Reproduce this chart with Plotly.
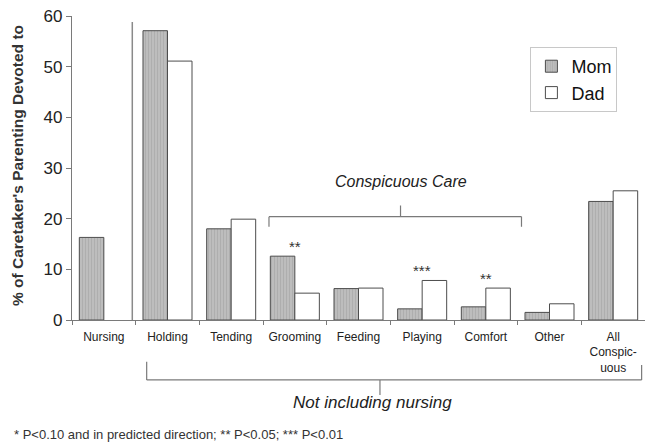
import plotly.graph_objects as go

# Parenting behaviour categories and share of caretaker time (%)
categories = ["Nursing", "Holding", "Tending", "Grooming", "Feeding",
              "Playing", "Comfort", "Other", "All<br>Conspic-<br>uous"]
mom = [16.3, 57.1, 18.0, 12.6, 6.2, 2.2, 2.6, 1.5, 23.4]
dad = [None, 51.1, 19.9, 5.3, 6.3, 7.8, 6.3, 3.2, 25.5]

# Significance markers (category index -> label)
sig_idx = [3, 5, 6]
sig_txt = ["**", "***", "**"]

y_ticks = [0, 10, 20, 30, 40, 50, 60]

FONT = "Liberation Sans, Arial, sans-serif"
LINE = "#7a7a7a"

fig = go.Figure()
fig.add_trace(go.Bar(
    name="Mom", x=categories, y=mom,
    marker=dict(color="#bdbdbd",
                line=dict(color="#4d4d4d", width=1),
                pattern=dict(shape="|", fgcolor="#9c9c9c", size=3, solidity=0.3)),
))
fig.add_trace(go.Bar(
    name="Dad", x=categories, y=dad,
    marker=dict(color="white", line=dict(color="#4d4d4d", width=1)),
))

shapes = []
# separator between nursing and the other categories
shapes.append(dict(type="line", xref="x", yref="y", x0=0.447, x1=0.447, y0=0, y1=58.8,
                   line=dict(color="#8a8a8a", width=1.5)))
# "Conspicuous Care" bracket
cc = dict(xref="x", yref="y", line=dict(color=LINE, width=1.2))
shapes += [
    dict(type="line", x0=2.594, x1=6.56, y0=20.4, y1=20.4, **cc),
    dict(type="line", x0=2.594, x1=2.594, y0=18.4, y1=20.4, **cc),
    dict(type="line", x0=6.56, x1=6.56, y0=18.4, y1=20.4, **cc),
    dict(type="line", x0=4.66, x1=4.66, y0=20.4, y1=22.6, **cc),
]
# "Not including nursing" bracket under the axis
nb = dict(xref="x", yref="paper", line=dict(color=LINE, width=1.2))
shapes += [
    dict(type="line", x0=0.673, x1=8.447, y0=-0.197, y1=-0.197, **nb),
    dict(type="line", x0=0.673, x1=0.673, y0=-0.137, y1=-0.197, **nb),
    dict(type="line", x0=8.447, x1=8.447, y0=-0.148, y1=-0.197, **nb),
    dict(type="line", x0=4.337, x1=4.337, y0=-0.197, y1=-0.247, **nb),
]

annotations = []
for i, t in zip(sig_idx, sig_txt):
    top = max(v for v in (mom[i], dad[i]) if v is not None)
    annotations.append(dict(x=i, y=top, xref="x", yref="y", text=t, showarrow=False,
                            yanchor="middle", yshift=10,
                            font=dict(family=FONT, size=15, color="#333")))
annotations += [
    dict(x=4.66, y=27.3, xref="x", yref="y", text="<i>Conspicuous Care</i>",
         showarrow=False, yanchor="middle",
         font=dict(family=FONT, size=16, color="#222")),
    dict(x=0.5, xref="paper", y=-0.273, yref="paper", text="<i>Not including nursing</i>",
         showarrow=False, xanchor="left", yanchor="middle", xshift=-68,
         font=dict(family=FONT, size=17, color="#222")),
    dict(x=-0.105, xref="paper", y=-0.378, yref="paper",
         text="* P<0.10 and in predicted direction; ** P<0.05; *** P<0.01",
         showarrow=False, xanchor="left", yanchor="middle",
         font=dict(family=FONT, size=13, color="#333")),
    dict(x=-0.094, xref="paper", y=0.507, yref="paper",
         text="<b>% of Caretaker's Parenting Devoted to</b>", textangle=-90,
         showarrow=False, xanchor="center", yanchor="middle",
         font=dict(family=FONT, size=15.5, color="#333")),
]

fig.update_layout(
    width=645, height=444,
    margin=dict(l=72, r=0, t=16, b=124),
    paper_bgcolor="white", plot_bgcolor="white",
    barmode="group", bargap=0.23, bargroupgap=0,
    font=dict(family=FONT, color="#222"),
    shapes=shapes, annotations=annotations,
    legend=dict(x=0.8, y=0.898, xanchor="left", yanchor="top",
                bordercolor="#c8c8c8", borderwidth=1,
                font=dict(family=FONT, size=18, color="#111"),
                itemwidth=30, tracegroupgap=0),
    showlegend=True,
)
fig.update_xaxes(
    range=[-0.5, 8.5], showline=True, linecolor=LINE, linewidth=1.2,
    ticks="outside", tickson="boundaries", ticklen=4, tickcolor=LINE,
    ticklabelstandoff=5,
    showgrid=False, tickfont=dict(family=FONT, size=12, color="#222"),
)
fig.update_yaxes(
    range=[0, 60], tickvals=y_ticks, showline=True, linecolor=LINE, linewidth=1.2,
    ticks="outside", ticklen=5, tickcolor=LINE, showgrid=False, zeroline=False,
    tickfont=dict(family=FONT, size=17, color="#222"),
)

fig.write_html("out.html")
